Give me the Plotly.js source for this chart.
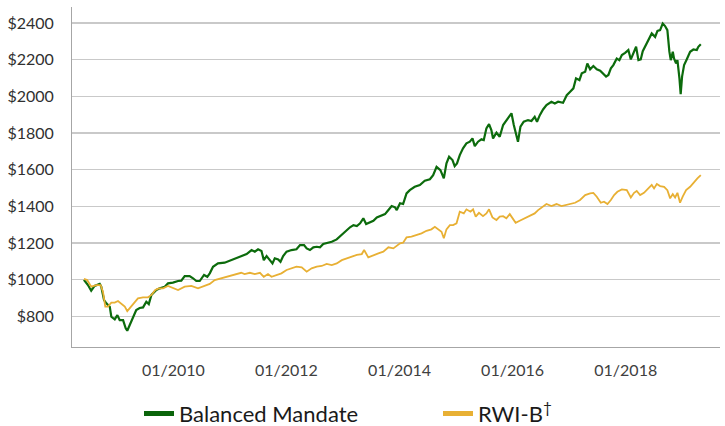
<!DOCTYPE html>
<html>
<head>
<meta charset="utf-8">
<script src="https://cdn.plot.ly/plotly-3.0.1.min.js"></script>
<style>html,body{margin:0;padding:0;background:#fff;}#chart{width:725px;height:426px;}</style>
</head>
<body>
<div id="chart"></div>
<script>
// Series names
const seriesNames = ["Balanced Mandate", "RWI-B<sup>†</sup>"];

// Balanced Mandate: dates as decimal years, values in $
const mandateDates = [
2008.420,2008.491,2008.549,2008.609,2008.698,2008.726,2008.774,2008.815,2008.875,2008.903,2008.963,2009.009,2009.052,2009.110,2009.158,2009.186,2009.228,2009.287,2009.345,2009.405,2009.464,2009.522,2009.565,2009.611,2009.699,2009.759,2009.848,2009.906,2009.994,2010.083,2010.141,2010.201,2010.290,2010.348,2010.407,2010.467,2010.543,2010.601,2010.644,2010.702,2010.790,2010.909,2011.024,2011.142,2011.261,
2011.296,2011.385,2011.443,2011.501,2011.561,2011.602,2011.650,2011.708,2011.756,2011.796,2011.855,2011.897,2011.943,2012.003,2012.092,2012.180,2012.241,2012.312,2012.359,2012.418,2012.476,2012.536,2012.595,2012.653,2012.742,2012.802,2012.890,2012.949,2013.037,2013.126,2013.184,2013.244,2013.302,2013.361,2013.409,2013.479,2013.538,2013.598,2013.656,2013.745,2013.803,2013.863,2013.922,2013.952,2014.010,
2014.064,2014.124,2014.183,2014.271,2014.360,2014.448,2014.537,2014.595,2014.655,2014.726,2014.784,2014.832,2014.878,2014.938,2014.978,2015.019,2015.067,2015.125,2015.185,2015.244,2015.291,2015.332,2015.390,2015.450,2015.491,2015.539,2015.585,2015.627,2015.656,2015.716,2015.774,2015.833,2015.893,2015.981,2016.022,2016.070,2016.098,2016.140,2016.199,2016.275,2016.335,2016.393,2016.434,2016.482,2016.540,2016.600,2016.688,2016.746,2016.805,2016.893,
2016.959,2017.017,2017.076,2017.123,2017.182,2017.224,2017.283,2017.323,2017.371,2017.430,2017.490,2017.548,2017.606,2017.654,2017.695,2017.737,2017.783,2017.843,2017.889,2017.932,2017.990,2018.049,2018.091,2018.137,2018.185,2018.226,2018.268,2018.303,2018.362,2018.420,2018.463,2018.521,2018.562,2018.610,2018.657,2018.698,2018.739,2018.774,2018.799,2018.834,2018.857,2018.893,2018.916,2018.951,2018.975,2018.998,2019.034,2019.081,2019.140,2019.198,2019.258,2019.287,2019.329
];
const mandateValues = [
1000,971,940,966,977,962,889,871,853,798,784,807,780,780,735,722,753,791,835,846,849,880,867,917,944,953,962,980,984,993,995,1020,1020,1008,993,993,1026,1016,1035,1071,1089,1093,1107,1122,1140,
1140,1162,1153,1166,1157,1107,1129,1107,1089,1117,1111,1098,1129,1153,1162,1166,1189,1189,1171,1162,1177,1180,1177,1195,1202,1207,1220,1238,1262,1286,1298,1293,1308,1335,1304,1316,1322,1340,1347,1358,1380,1402,1395,1380,1417,
1413,1471,1489,1507,1517,1540,1548,1571,1616,1598,1553,1635,1671,1653,1620,1635,1680,1717,1744,1753,1771,1729,1753,1766,1762,1826,1849,1817,1771,1802,1780,1844,1871,1908,1844,1786,1753,1835,1862,1871,1866,1889,1862,1898,1929,1953,1971,1962,1971,1965,
2007,2026,2044,2099,2089,2126,2135,2180,2148,2166,2148,2140,2122,2108,2117,2153,2171,2207,2198,2226,2238,2253,2202,2235,2271,2198,2202,2247,2284,2311,2344,2325,2358,2362,2398,2384,2362,2244,2198,2244,2207,2180,2198,2099,2013,2108,2171,2202,2244,2256,2253,2271,2285
];

// RWI-B benchmark
const benchDates = [
2008.420,2008.478,2008.549,2008.637,2008.715,2008.756,2008.797,2008.844,2008.903,2008.963,2009.021,2009.080,2009.140,2009.186,2009.246,2009.317,2009.375,2009.464,2009.552,2009.611,2009.681,2009.741,2009.818,2009.906,2009.994,2010.083,2010.201,2010.318,2010.436,2010.525,2010.644,2010.732,2010.849,2010.937,2011.024,2011.113,2011.201,2011.261,
2011.356,2011.443,2011.533,2011.602,2011.676,2011.737,2011.826,2011.915,2012.003,2012.092,2012.180,2012.271,2012.359,2012.448,2012.536,2012.625,2012.713,2012.802,2012.890,2012.979,2013.067,2013.156,2013.244,2013.332,2013.373,2013.449,2013.538,2013.626,2013.714,2013.803,2013.891,2013.952,2014.010,
2014.064,2014.124,2014.213,2014.301,2014.390,2014.478,2014.567,2014.625,2014.701,2014.743,2014.784,2014.832,2014.891,2014.949,2015.009,2015.067,2015.138,2015.185,2015.256,2015.302,2015.350,2015.408,2015.479,2015.539,2015.585,2015.645,2015.716,2015.774,2015.833,2015.893,2015.951,2016.009,2016.057,2016.128,2016.216,2016.305,2016.393,2016.451,2016.529,2016.600,2016.688,2016.776,2016.865,
2016.929,2017.017,2017.106,2017.194,2017.283,2017.371,2017.430,2017.490,2017.560,2017.619,2017.677,2017.737,2017.796,2017.854,2017.932,2018.020,2018.091,2018.149,2018.197,2018.255,2018.326,2018.402,2018.463,2018.503,2018.551,2018.610,2018.680,2018.739,2018.787,2018.834,2018.875,2018.916,2018.963,2019.010,2019.069,2019.140,2019.198,2019.269,2019.329
];
const benchValues = [
1005,998,962,971,971,935,853,853,875,875,884,871,853,829,853,880,898,904,904,917,944,953,953,966,953,944,962,966,953,962,977,998,1008,1013,1020,1029,1038,1031,
1038,1031,1038,1016,1031,1016,1026,1035,1053,1062,1071,1068,1044,1062,1071,1075,1086,1080,1089,1107,1117,1129,1135,1140,1162,1122,1135,1144,1153,1177,1171,1184,1199,
1202,1231,1235,1244,1253,1267,1275,1289,1271,1262,1226,1275,1298,1298,1308,1371,1362,1384,1371,1384,1344,1365,1347,1362,1384,1340,1326,1344,1347,1335,1358,1335,1311,1322,1335,1347,1362,1380,1398,1413,1402,1413,1402,
1407,1413,1420,1435,1462,1471,1474,1453,1420,1426,1413,1435,1462,1480,1493,1489,1449,1474,1484,1462,1474,1498,1517,1498,1522,1511,1507,1489,1444,1467,1449,1474,1420,1453,1489,1507,1529,1553,1571
];

// Axis ticks
const yTickValues = [800,1000,1200,1400,1600,1800,2000,2200,2400];
const yTickLabels = ["$800","$1000","$1200","$1400","$1600","$1800","$2000","$2200","$2400"];
const xFirstTick = "2010-01-01";
const xRangeYears = [2008.208, 2019.671];
const yRange = [633, 2488];

function toDate(y){
  const yr = Math.floor(y);
  const s = Date.UTC(yr,0,1), e = Date.UTC(yr+1,0,1);
  return new Date(s + (y-yr)*(e-s)).toISOString().slice(0,10);
}

const font = "Lato, 'Open Sans', sans-serif";
const colors = ["#0c6b0c", "#e8b034"];
const legendColors = ["#0a640a", "#e8b034"];

const traces = [
  {x: mandateDates.map(toDate), y: mandateValues, type: "scatter", mode: "lines",
   name: seriesNames[0], legendgroup: "a", showlegend: false, line: {color: colors[0], width: 2.2}},
  {x: benchDates.map(toDate), y: benchValues, type: "scatter", mode: "lines",
   name: seriesNames[1], legendgroup: "b", showlegend: false, line: {color: colors[1], width: 1.8}},
  // legend swatches (thicker, as in the original legend)
  {x: [null], y: [null], type: "scatter", mode: "lines", name: seriesNames[0],
   legendgroup: "a", showlegend: true, line: {color: legendColors[0], width: 5}},
  {x: [null], y: [null], type: "scatter", mode: "lines", name: seriesNames[1],
   legendgroup: "b", showlegend: true, line: {color: legendColors[1], width: 5}}
];

const layout = {
  width: 725, height: 426,
  margin: {l: 72, r: 5, t: 7, b: 79, autoexpand: false},
  paper_bgcolor: "#fff", plot_bgcolor: "#fff",
  font: {family: font, color: "#404040", size: 16},
  showlegend: true,
  legend: {orientation: "h", x: 0.1034, xanchor: "left", y: -0.196, yanchor: "middle",
           font: {family: font, size: 22, color: "#1a1a1a"},
           entrywidth: 254, entrywidthmode: "pixels", bgcolor: "rgba(0,0,0,0)"},
  xaxis: {type: "date", range: xRangeYears.map(toDate), tick0: xFirstTick, dtick: "M24",
          tickformat: "%m/%Y", showgrid: false, zeroline: false,
          showline: true, linecolor: "#a6a6a6", linewidth: 1, ticks: "",
          ticklabelstandoff: 9, tickfont: {size: 16, color: "#404040"}},
  yaxis: {range: yRange, tickmode: "array", tickvals: yTickValues, ticktext: yTickLabels,
          showgrid: true, gridcolor: "#c9c9c9", gridwidth: 1.4, zeroline: false,
          showline: true, linecolor: "#a6a6a6", linewidth: 1, ticks: "",
          ticklabelstandoff: 14, tickfont: {size: 16, color: "#303030"}},
  hovermode: false
};

Plotly.newPlot("chart", traces, layout, {displayModeBar: false, staticPlot: true});
</script>
</body>
</html>
